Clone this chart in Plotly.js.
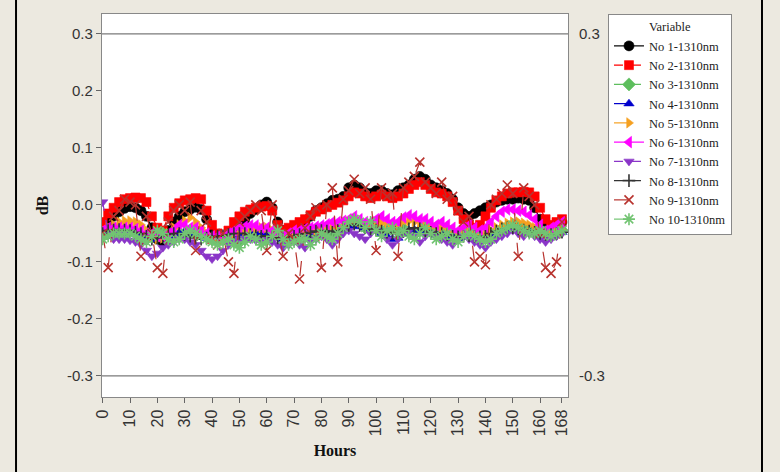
<!DOCTYPE html>
<html>
<head>
<meta charset="utf-8">
<script src="https://cdn.plot.ly/plotly-3.0.1.min.js"></script>
<style>html,body{margin:0;padding:0;background:#ECE9E0;}#chart{width:780px;height:472px;}</style>
</head>
<body>
<div id="chart"></div>
<script>
// Sampling times (hours)
var hours = [0,2,4,6,8,10,12,14,16,18,20,22,24,26,28,30,32,34,36,38,40,42,44,46,48,50,52,54,56,58,
  60,62,64,66,68,70,72,74,76,78,80,82,84,86,88,90,92,94,96,98,100,102,104,106,108,110,112,114,116,118,
  120,122,124,126,128,130,132,134,136,138,140,142,144,146,148,150,152,154,156,158,160,162,164,166,168];

var seriesNames = ["No 1-1310nm","No 2-1310nm","No 3-1310nm","No 4-1310nm","No 5-1310nm",
  "No 6-1310nm","No 7-1310nm","No 8-1310nm","No 9-1310nm","No 10-1310nm"];

var no1 = [-0.04,-0.03,-0.02,-0.012,-0.006,-0.003,-0.005,-0.01,-0.02,-0.04,
  -0.06,-0.065,-0.045,-0.03,-0.02,-0.012,-0.008,-0.004,-0.008,-0.025,
  -0.05,-0.06,-0.06,-0.055,-0.045,-0.035,-0.025,-0.015,-0.008,0.0,
  0.005,-0.005,-0.03,-0.045,-0.05,-0.045,-0.035,-0.03,-0.02,-0.01,
  -0.005,0.002,0.008,0.01,0.015,0.03,0.035,0.03,0.022,0.02,
  0.025,0.025,0.02,0.018,0.025,0.03,0.035,0.045,0.05,0.045,
  0.035,0.03,0.025,0.02,0.01,-0.005,-0.015,-0.02,-0.015,-0.01,
  -0.005,0.0,0.005,0.008,0.01,0.01,0.012,0.01,0.008,-0.005,
  -0.025,-0.04,-0.045,-0.035,-0.03];
var no2 = [-0.03,-0.015,-0.005,0.005,0.01,0.012,0.013,0.012,0.005,-0.02,
  -0.04,-0.045,-0.02,-0.005,0.003,0.008,0.01,0.012,0.01,-0.01,
  -0.035,-0.05,-0.055,-0.045,-0.03,-0.02,-0.012,-0.008,-0.005,-0.003,
  -0.002,-0.01,-0.035,-0.045,-0.04,-0.035,-0.03,-0.025,-0.018,-0.012,
  -0.008,-0.004,0.0,0.004,0.008,0.015,0.022,0.02,0.015,0.012,
  0.015,0.018,0.015,0.012,0.015,0.02,0.028,0.035,0.04,0.035,
  0.028,0.022,0.02,0.015,0.005,-0.01,-0.025,-0.035,-0.04,-0.035,
  -0.02,-0.005,0.008,0.015,0.02,0.022,0.022,0.023,0.022,0.015,
  -0.005,-0.025,-0.035,-0.03,-0.025];
var no3 = [-0.055,-0.05,-0.048,-0.045,-0.045,-0.046,-0.05,-0.055,-0.06,-0.055,
  -0.05,-0.05,-0.055,-0.058,-0.055,-0.05,-0.045,-0.045,-0.05,-0.055,
  -0.06,-0.062,-0.06,-0.058,-0.06,-0.065,-0.06,-0.052,-0.05,-0.055,
  -0.06,-0.055,-0.05,-0.055,-0.062,-0.06,-0.055,-0.055,-0.06,-0.055,
  -0.05,-0.05,-0.055,-0.05,-0.042,-0.035,-0.03,-0.032,-0.04,-0.035,
  -0.04,-0.048,-0.042,-0.038,-0.045,-0.042,-0.048,-0.052,-0.045,-0.04,
  -0.045,-0.052,-0.05,-0.048,-0.052,-0.058,-0.05,-0.048,-0.05,-0.055,
  -0.058,-0.055,-0.048,-0.042,-0.038,-0.035,-0.038,-0.042,-0.045,-0.046,
  -0.045,-0.048,-0.05,-0.048,-0.045];
var no4 = [-0.05,-0.048,-0.046,-0.045,-0.045,-0.046,-0.048,-0.05,-0.055,-0.058,
  -0.06,-0.058,-0.055,-0.05,-0.048,-0.048,-0.05,-0.052,-0.055,-0.058,
  -0.06,-0.058,-0.055,-0.053,-0.052,-0.05,-0.048,-0.047,-0.048,-0.05,
  -0.05,-0.052,-0.056,-0.06,-0.058,-0.055,-0.055,-0.052,-0.05,-0.048,
  -0.046,-0.045,-0.044,-0.042,-0.04,-0.038,-0.036,-0.038,-0.04,-0.042,
  -0.045,-0.05,-0.055,-0.06,-0.058,-0.05,-0.045,-0.044,-0.046,-0.048,
  -0.05,-0.052,-0.052,-0.054,-0.056,-0.058,-0.056,-0.055,-0.056,-0.058,
  -0.056,-0.052,-0.048,-0.045,-0.043,-0.042,-0.043,-0.045,-0.047,-0.05,
  -0.052,-0.054,-0.053,-0.05,-0.048];
var no5 = [-0.045,-0.04,-0.035,-0.03,-0.028,-0.028,-0.03,-0.035,-0.045,-0.055,
  -0.06,-0.058,-0.05,-0.04,-0.035,-0.028,-0.022,-0.03,-0.04,-0.05,
  -0.06,-0.062,-0.06,-0.055,-0.05,-0.045,-0.045,-0.042,-0.042,-0.04,
  -0.04,-0.045,-0.055,-0.06,-0.058,-0.055,-0.05,-0.048,-0.045,-0.045,
  -0.042,-0.04,-0.04,-0.038,-0.035,-0.03,-0.028,-0.03,-0.035,-0.035,
  -0.03,-0.032,-0.035,-0.036,-0.035,-0.03,-0.028,-0.03,-0.032,-0.035,
  -0.038,-0.04,-0.04,-0.042,-0.045,-0.05,-0.05,-0.048,-0.05,-0.052,
  -0.05,-0.045,-0.04,-0.035,-0.032,-0.03,-0.03,-0.032,-0.035,-0.04,
  -0.045,-0.05,-0.05,-0.048,-0.045];
var no6 = [-0.045,-0.04,-0.04,-0.04,-0.04,-0.04,-0.042,-0.045,-0.05,-0.05,
  -0.055,-0.055,-0.05,-0.045,-0.035,-0.035,-0.04,-0.04,-0.045,-0.05,
  -0.055,-0.055,-0.055,-0.05,-0.045,-0.04,-0.038,-0.036,-0.036,-0.04,
  -0.04,-0.045,-0.05,-0.055,-0.05,-0.045,-0.045,-0.042,-0.04,-0.038,
  -0.036,-0.034,-0.03,-0.03,-0.028,-0.025,-0.02,-0.025,-0.03,-0.03,
  -0.025,-0.02,-0.025,-0.03,-0.03,-0.022,-0.018,-0.02,-0.025,-0.025,
  -0.03,-0.035,-0.03,-0.035,-0.04,-0.045,-0.04,-0.035,-0.04,-0.045,
  -0.04,-0.03,-0.02,-0.012,-0.008,-0.008,-0.01,-0.012,-0.018,-0.025,
  -0.035,-0.045,-0.04,-0.035,-0.03];
var no7 = [0.005,-0.05,-0.06,-0.06,-0.06,-0.062,-0.065,-0.07,-0.08,-0.09,
  -0.085,-0.075,-0.07,-0.065,-0.06,-0.06,-0.065,-0.07,-0.08,-0.09,
  -0.095,-0.09,-0.08,-0.07,-0.065,-0.06,-0.06,-0.06,-0.062,-0.065,
  -0.06,-0.065,-0.07,-0.075,-0.07,-0.065,-0.07,-0.075,-0.065,-0.06,
  -0.055,-0.06,-0.07,-0.06,-0.05,-0.045,-0.05,-0.055,-0.06,-0.05,
  -0.045,-0.05,-0.06,-0.07,-0.06,-0.05,-0.045,-0.055,-0.065,-0.055,
  -0.05,-0.055,-0.06,-0.065,-0.07,-0.06,-0.055,-0.06,-0.065,-0.07,
  -0.075,-0.065,-0.06,-0.055,-0.05,-0.045,-0.05,-0.055,-0.05,-0.055,
  -0.06,-0.065,-0.06,-0.055,-0.05];
var no8 = [-0.05,-0.045,-0.044,-0.043,-0.044,-0.045,-0.048,-0.05,-0.055,-0.06,
  -0.058,-0.055,-0.052,-0.05,-0.05,-0.052,-0.055,-0.058,-0.06,-0.058,
  -0.056,-0.055,-0.054,-0.052,-0.05,-0.05,-0.05,-0.052,-0.054,-0.055,
  -0.054,-0.056,-0.058,-0.06,-0.058,-0.055,-0.052,-0.05,-0.048,-0.046,
  -0.045,-0.046,-0.048,-0.045,-0.04,-0.036,-0.034,-0.036,-0.04,-0.042,
  -0.044,-0.046,-0.048,-0.05,-0.05,-0.046,-0.042,-0.04,-0.042,-0.045,
  -0.048,-0.05,-0.05,-0.052,-0.055,-0.056,-0.055,-0.054,-0.055,-0.056,
  -0.055,-0.05,-0.046,-0.042,-0.04,-0.04,-0.042,-0.044,-0.046,-0.048,
  -0.05,-0.052,-0.052,-0.05,-0.048];
var no9 = [-0.05,-0.11,-0.02,-0.01,0.01,0.005,0.0,-0.09,-0.02,-0.05,
  -0.11,-0.12,-0.03,-0.01,0.0,-0.01,0.005,-0.08,-0.01,-0.03,
  -0.06,-0.07,-0.05,-0.1,-0.12,-0.03,-0.02,-0.01,0.0,-0.01,
  -0.08,0.0,-0.04,-0.09,-0.05,-0.06,-0.13,-0.04,-0.02,-0.005,
  -0.11,0.0,0.03,-0.1,0.01,0.025,0.045,0.02,0.03,0.01,
  -0.08,0.03,0.015,0.02,-0.09,0.03,0.04,0.05,0.075,0.04,
  0.03,0.02,0.04,0.01,0.015,-0.01,-0.03,-0.02,-0.1,-0.09,
  -0.105,0.0,0.01,0.02,0.035,0.02,-0.09,0.03,0.015,0.0,
  -0.05,-0.11,-0.12,-0.1,-0.03];
var no10 = [-0.06,-0.055,-0.05,-0.05,-0.05,-0.05,-0.055,-0.06,-0.065,-0.055,
  -0.045,-0.05,-0.06,-0.065,-0.06,-0.05,-0.045,-0.05,-0.055,-0.06,
  -0.065,-0.07,-0.065,-0.06,-0.07,-0.075,-0.065,-0.055,-0.06,-0.07,
  -0.065,-0.055,-0.045,-0.06,-0.07,-0.065,-0.06,-0.06,-0.07,-0.06,
  -0.05,-0.055,-0.06,-0.05,-0.04,-0.03,-0.025,-0.03,-0.04,-0.03,
  -0.045,-0.055,-0.045,-0.04,-0.05,-0.045,-0.055,-0.06,-0.05,-0.04,
  -0.05,-0.06,-0.055,-0.05,-0.06,-0.065,-0.055,-0.05,-0.055,-0.06,
  -0.065,-0.06,-0.05,-0.045,-0.04,-0.035,-0.04,-0.045,-0.05,-0.05,
  -0.045,-0.05,-0.055,-0.05,-0.045];

var xTickVals = [0,10,20,30,40,50,60,70,80,90,100,110,120,130,140,150,160,168];
var xTickText = ["0","10","20","30","40","50","60","70","80","90","100","110","120","130","140","150","160","168"];
var yTickVals = [-0.3,-0.2,-0.1,0.0,0.1,0.2,0.3];
var yTickText = ["-0.3","-0.2","-0.1","0.0","0.1","0.2","0.3"];
var refLines = [0.3, -0.3];
var refLabels = ["0.3", "-0.3"];

var values = [no1,no2,no3,no4,no5,no6,no7,no8,no9,no10];
var styles = [
  {color:"#000000", symbol:"circle", dash:"solid", size:10},
  {color:"#FF0000", symbol:"square", dash:"dash", size:9},
  {color:"#5DBE5D", symbol:"diamond", dash:"dash", size:10},
  {color:"#0000CC", symbol:"triangle-up", dash:"longdash", size:9},
  {color:"#F5A020", symbol:"triangle-right", dash:"longdash", size:9},
  {color:"#FF00FF", symbol:"triangle-left", dash:"solid", size:10},
  {color:"#8A35C8", symbol:"triangle-down", dash:"dash", size:9},
  {color:"#333333", symbol:"cross-thin", dash:"dash", size:9},
  {color:"#B8332E", symbol:"x-thin", dash:"longdash", size:9},
  {color:"#72C472", symbol:"asterisk", dash:"longdash", size:10}
];
var thin = {"cross-thin":1, "x-thin":1, "asterisk":1};

var traces = values.map(function(v, i){
  var s = styles[i];
  var isThin = thin[s.symbol] === 1;
  return {
    type: "scatter", mode: "lines+markers", name: seriesNames[i],
    x: hours, y: v,
    line: {color: s.color, width: 1.2, dash: s.dash},
    marker: {symbol: s.symbol, size: s.size, color: s.color,
             line: {color: s.color, width: isThin ? 1.6 : 0.6}}
  };
});

var font = "Liberation Sans, Arial, sans-serif";
var serif = "Liberation Serif, Times New Roman, serif";

var shapes = refLines.map(function(v){
  return {type:"line", xref:"paper", yref:"y", x0:0, x1:1, y0:v, y1:v,
          line:{color:"#7a7a7a", width:1.3}, layer:"below"};
});
shapes.push({type:"line", xref:"paper", yref:"paper", x0:-0.1845, x1:-0.1845, y0:-0.2, y1:1.04,
             line:{color:"#000", width:2}});
shapes.push({type:"line", xref:"paper", yref:"paper", x0:1.4163, x1:1.4163, y0:-0.2, y1:1.04,
             line:{color:"#000", width:2}});

var annotations = refLines.map(function(v, i){
  return {xref:"paper", yref:"y", x:1, y:v, xanchor:"left", yanchor:"middle", xshift:9,
          text: refLabels[i], showarrow:false, font:{family:font, size:15, color:"#333"}};
});

var layout = {
  width: 780, height: 472,
  paper_bgcolor: "#ECE9E0", plot_bgcolor: "#FFFFFF",
  margin: {l:102, r:212, t:14, b:75},
  showlegend: true,
  xaxis: {
    range: [-0.25, 170.2], tickvals: xTickVals, ticktext: xTickText, tickangle: -90,
    ticks: "outside", ticklen: 5, tickcolor: "#666", showgrid: false, zeroline: false,
    showline: true, linecolor: "#888", linewidth: 1.2, mirror: true,
    tickfont: {family: font, size: 16, color: "#333"},
    title: {text: "<b>Hours</b>", font: {family: serif, size: 16, color: "#111"}, standoff: 9}
  },
  yaxis: {
    range: [-0.337, 0.335], tickvals: yTickVals, ticktext: yTickText,
    ticks: "outside", ticklen: 5, tickcolor: "#666", showgrid: false, zeroline: false,
    showline: true, linecolor: "#888", linewidth: 1.2, mirror: true,
    tickfont: {family: font, size: 15, color: "#333"},
    title: {text: "<b>dB</b>", font: {family: serif, size: 16, color: "#111"}, standoff: 14}
  },
  legend: {
    x: 1.0858, y: 1, xanchor: "left", yanchor: "top",
    bgcolor: "#FFFFFF", bordercolor: "#888", borderwidth: 1,
    font: {family: serif, size: 12.5, color: "#222"},
    title: {text: "Variable", side: "top center", font: {family: serif, size: 12.5, color: "#222"}},
    itemwidth: 30, tracegroupgap: 0, entrywidth: 108, entrywidthmode: "pixels"
  },
  shapes: shapes,
  annotations: annotations
};

Plotly.newPlot("chart", traces, layout, {displayModeBar: false, staticPlot: true});
</script>
</body>
</html>
